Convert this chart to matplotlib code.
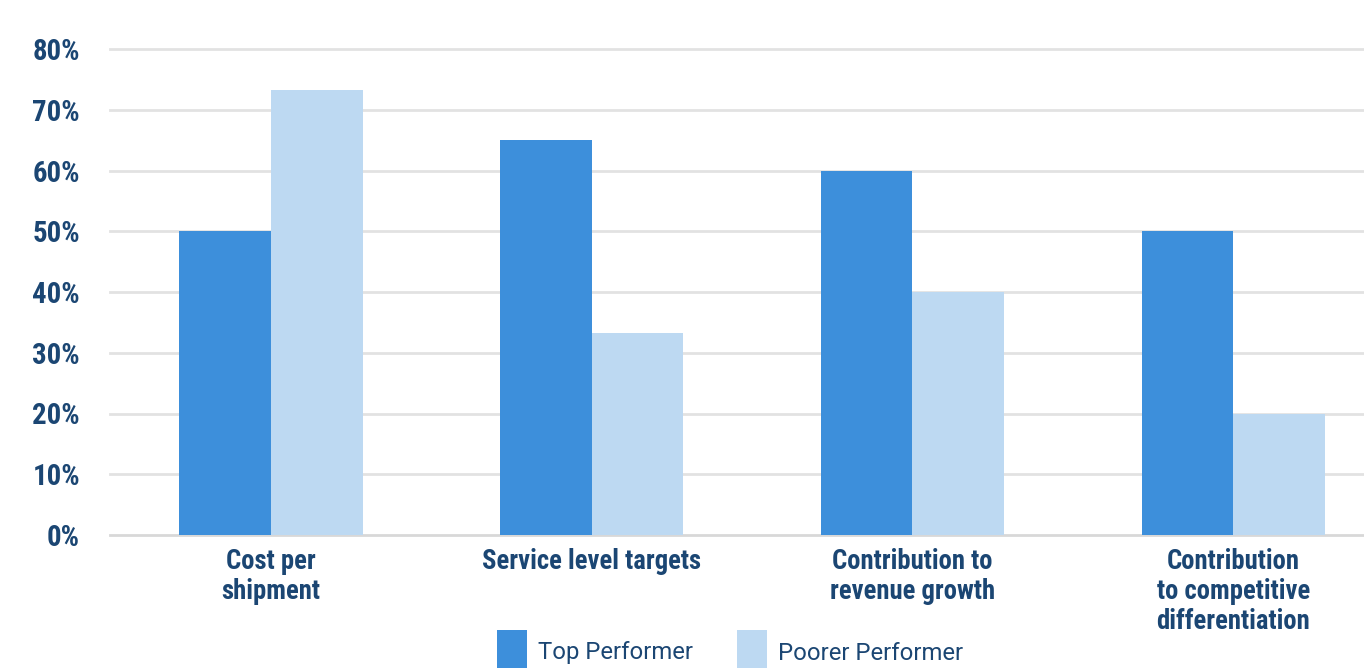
import matplotlib
matplotlib.use("Agg")
import matplotlib.pyplot as plt
from matplotlib.patches import Rectangle
from matplotlib import font_manager
import numpy as np

categories = ["Cost per\nshipment", "Service level targets", "Contribution to\nrevenue growth",
              "Contribution\nto competitive\ndifferentiation"]
top_performer = [50, 65, 60, 50]
poorer_performer = [73.3, 33.3, 40, 20]
series_names = ["Top Performer", "Poorer Performer"]
yticks = [0, 10, 20, 30, 40, 50, 60, 70, 80]

names = {f.name for f in font_manager.fontManager.ttflist}
cond = "Roboto"
for cand in ["Roboto Condensed", "Liberation Sans Narrow", "Arial Narrow", "Open Sans Condensed"]:
    if cand in names:
        cond = cand
        break
COND = [cond, "DejaVu Sans"]
REG = ["Roboto", "DejaVu Sans"]

DARK = "#3d8fdb"
LIGHT = "#bdd9f2"
NAVY = "#1b4673"
GRID = "#e2e2e2"

W, H = 1364, 668
fig = plt.figure(figsize=(W / 100, H / 100), dpi=100)
fig.patch.set_facecolor("white")
ax = fig.add_axes([110 / W, 1 - 535 / H, (1364 - 110) / W, (535 - 49) / H])
ax.set_facecolor("white")

x = np.arange(len(categories))
bw = 0.2855
ax.bar(x - bw / 2, top_performer, bw, color=DARK, zorder=3, linewidth=0)
ax.bar(x + bw / 2, poorer_performer, bw, color=LIGHT, zorder=3, linewidth=0)

ax.set_xlim(-0.502, 3.408)
ax.set_ylim(0, 80)
ax.set_yticks(yticks)
ax.set_yticklabels([f"{v}%" for v in yticks], family=COND, fontweight="bold",
                   fontsize=20.8, color=NAVY)
ax.tick_params(axis="y", length=0, pad=21.6)
ax.set_xticks([])
for v in yticks:
    ax.axhline(v, color="#d8d8d8" if v == 0 else GRID, lw=2, zorder=1, clip_on=False)
for s in ax.spines.values():
    s.set_visible(False)

for xi, lab in zip(x, categories):
    ax.annotate(lab, xy=(xi, 0), xycoords=("data", "axes fraction"),
                xytext=(0, -9.5), textcoords="offset points",
                ha="center", va="top", family=COND, fontweight="bold",
                fontsize=19.2, color=NAVY, linespacing=1.13)

# legend
for (x0, col, name) in [(497, DARK, series_names[0]), (737, LIGHT, series_names[1])]:
    fig.add_artist(Rectangle((x0 / W, 0), 30 / W, 38 / H, transform=fig.transFigure,
                             color=col, lw=0))
    fig.text((x0 + 41) / W, 1 - 653 / H, name, ha="left", va="center",
             family=REG, fontsize=17.2, color=NAVY)

fig.savefig("out.png", dpi=100, facecolor="white")
